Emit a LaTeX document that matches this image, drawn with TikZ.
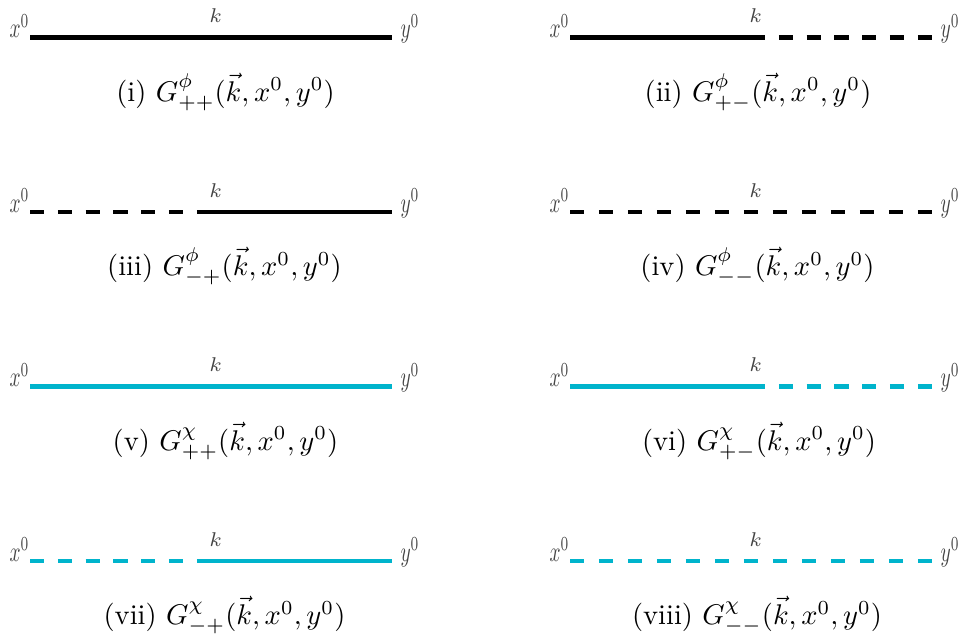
\documentclass[tikz,border=0pt]{standalone}
\usepackage{amsmath,amssymb}
\usepackage{graphicx}
\usepackage{tikz}
\usetikzlibrary{calc}
\usepackage{xcolor}
\definecolor{chicyan}{RGB}{0,180,204}
\definecolor{labgray}{RGB}{68,68,68}

\begin{document}
\begin{tikzpicture}[x=0.351pt,y=-0.351pt,
    solidhalf/.style={line width=1.6pt},
    dashhalf/.style={line width=1.6pt,dash pattern=on 5pt off 4.755pt},
    fullleft/.style={line width=1.6pt,dash pattern=on 5pt off 5.172pt},
    fullright/.style={fullleft,dash phase=2.5pt},
    xlab/.style={text=labgray,inner sep=0pt,anchor=base east},
    ylab/.style={text=labgray,inner xsep=2.8pt,inner ysep=0pt,anchor=base west},
    klab/.style={text=labgray,font=\scriptsize,inner sep=0pt,anchor=base}]
  \useasboundingbox (0,0) rectangle (959,639);
  % one propagator per panel: left end, row, colour, the two halves, caption centre
  \foreach \n/\x/\y/\col/\lsty/\rsty/\cx/\cap in {
      1/30/37.5/black/solidhalf/solidhalf/225.5/{(i) $G^{\phi}_{++}(\vec{k},x^0,y^0)$},
      2/570/37.5/black/solidhalf/dashhalf/758/{(ii) $G^{\phi}_{+-}(\vec{k},x^0,y^0)$},
      3/30/212/black/dashhalf/solidhalf/224.5/{(iii) $G^{\phi}_{-+}(\vec{k},x^0,y^0)$},
      4/570/212/black/fullleft/fullright/757.5/{(iv) $G^{\phi}_{--}(\vec{k},x^0,y^0)$},
      5/30/386.5/chicyan/solidhalf/solidhalf/225.5/{(v) $G^{\chi}_{++}(\vec{k},x^0,y^0)$},
      6/570/386.5/chicyan/solidhalf/dashhalf/759/{(vi) $G^{\chi}_{+-}(\vec{k},x^0,y^0)$},
      7/30/561/chicyan/dashhalf/solidhalf/224.5/{(vii) $G^{\chi}_{-+}(\vec{k},x^0,y^0)$},
      8/570/561/chicyan/fullleft/fullright/757/{(viii) $G^{\chi}_{--}(\vec{k},x^0,y^0)$}}{
    \coordinate (a\n) at (\x,\y);
    \coordinate (m\n) at (\x+181,\y);
    \coordinate (b\n) at (\x+362,\y);
    \draw[\col,\lsty] (a\n) -- (m\n);
    \draw[\col,\rsty] (m\n) -- (b\n);
    \node[xlab] (x\n) at (a\n) {\scalebox{0.68}[1]{$x^0$}};
    \node[ylab] (y\n) at (b\n) {\scalebox{0.68}[1]{$y^0$}};
    \node[klab] (k\n) at ([xshift=1.6pt,yshift=5.1pt]m\n) {$k$};
    \node[anchor=base] (cap\n) at (\cx,\y+63.5) {\cap};
  }
\end{tikzpicture}
\end{document}
